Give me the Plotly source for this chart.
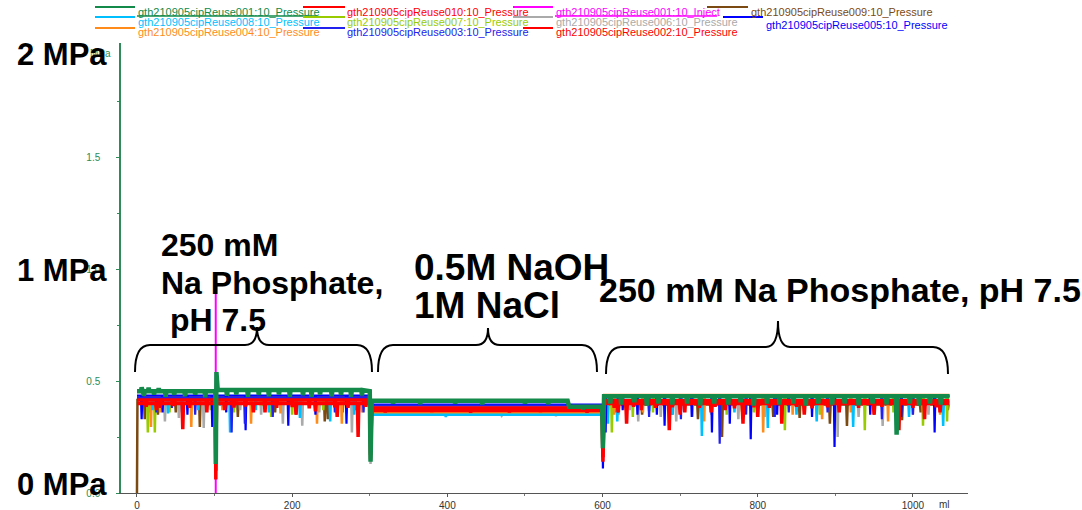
import numpy as np
import plotly.graph_objects as go

# ---------------------------------------------------------------------------
# Run data: pressure (MPa) against run volume (ml)
# ---------------------------------------------------------------------------

# Volumes where the run changes: start, sample inject, buffer switches, end
event_ml = [0, 0.6, 101, 101.6, 102.4, 104, 300, 301, 302.5, 555, 557, 599.5, 600.5, 602, 1047]

# Pressure of each run at those volumes
p009 = [0.0, 0.415, 0.415, 0.22, 0.415, 0.415, 0.415, 0.20, 0.355, 0.355, 0.355, 0.355, 0.28, 0.395, 0.395]
p006 = [0.415, 0.415, 0.415, 0.16, 0.415, 0.415, 0.415, 0.13, 0.35, 0.35, 0.35, 0.35, 0.30, 0.405, 0.405]
p007 = [0.42, 0.42, 0.42, 0.25, 0.42, 0.42, 0.42, 0.22, 0.355, 0.355, 0.355, 0.355, 0.18, 0.436, 0.436]
p004 = [0.43, 0.43, 0.43, 0.28, 0.43, 0.43, 0.43, 0.25, 0.36, 0.36, 0.36, 0.36, 0.30, 0.438, 0.438]
p008 = [0.42, 0.42, 0.42, 0.30, 0.42, 0.42, 0.42, 0.27, 0.35, 0.35, 0.35, 0.35, 0.25, 0.41, 0.41]
p005 = [0.435, 0.435, 0.435, 0.30, 0.435, 0.435, 0.435, 0.20, 0.395, 0.395, 0.395, 0.395, 0.11, 0.434, 0.434]
p003 = [0.425, 0.425, 0.425, 0.26, 0.425, 0.425, 0.425, 0.22, 0.39, 0.39, 0.39, 0.39, 0.20, 0.43, 0.43]
p002 = [0.40, 0.40, 0.40, 0.06, 0.40, 0.40, 0.40, 0.15, 0.368, 0.368, 0.368, 0.368, 0.14, 0.40, 0.40]
p010 = [0.415, 0.415, 0.415, 0.10, 0.415, 0.415, 0.415, 0.17, 0.38, 0.38, 0.38, 0.38, 0.16, 0.412, 0.412]
p001 = [0.455, 0.455, 0.455, 0.13, 0.54, 0.46, 0.455, 0.14, 0.412, 0.412, 0.385, 0.385, 0.20, 0.432, 0.432]

# Short pressure excursions of each run: volume (ml) and pressure reached (MPa)
dips009_ml = [10, 27, 50, 81, 130, 178, 205, 242, 246, 265, 281, 540, 616, 630, 651, 690, 723, 754,
              780, 820, 854, 893, 915, 950, 986, 1010, 1045]
dips009_mpa = [0.33, 0.35, 0.36, 0.295, 0.34, 0.36, 0.35, 0.32, 0.33, 0.36, 0.37, 0.345, 0.36, 0.37, 0.35,
               0.35, 0.33, 0.25, 0.36, 0.34, 0.335, 0.31, 0.30, 0.35, 0.325, 0.36, 0.37]
dips006_ml = [15, 36, 54, 86, 133, 160, 188, 213, 235, 277, 470, 605, 621, 635, 646, 675, 695, 740,
              775, 809, 860, 903, 930, 961, 1020]
dips006_mpa = [0.36, 0.32, 0.335, 0.29, 0.37, 0.35, 0.31, 0.30, 0.36, 0.27, 0.345, 0.34, 0.35, 0.37, 0.32,
               0.34, 0.32, 0.35, 0.33, 0.34, 0.36, 0.25, 0.34, 0.30, 0.35]
dips007_ml = [14, 23, 42, 95, 125, 161, 173, 200, 240, 270, 612, 639, 665, 716, 760, 795, 835, 880,
              938, 975, 1013, 1044]
dips007_mpa = [0.27, 0.27, 0.36, 0.37, 0.36, 0.39, 0.34, 0.35, 0.37, 0.355, 0.27, 0.34, 0.36, 0.34, 0.35,
               0.36, 0.28, 0.35, 0.28, 0.36, 0.30, 0.32]
dips004_ml = [18, 30, 70, 110, 147, 185, 232, 264, 290, 615, 652, 700, 731, 780, 807, 845, 883, 920,
              968, 1000, 1035]
dips004_mpa = [0.295, 0.36, 0.295, 0.37, 0.31, 0.355, 0.31, 0.31, 0.36, 0.35, 0.36, 0.36, 0.32, 0.33, 0.27,
               0.35, 0.33, 0.36, 0.32, 0.35, 0.35]
dips008_ml = [20, 40, 58, 79, 107, 120, 153, 170, 210, 249, 280, 398, 607, 619, 660, 690, 728, 770,
              813, 850, 876, 923, 995, 1039]
dips008_mpa = [0.37, 0.355, 0.36, 0.37, 0.39, 0.27, 0.37, 0.36, 0.335, 0.32, 0.35, 0.34, 0.31, 0.32, 0.365,
               0.35, 0.255, 0.36, 0.29, 0.35, 0.32, 0.295, 0.34, 0.30]
dips005_ml = [6, 33, 65, 97, 115, 140, 195, 230, 270, 604, 626, 645, 670, 680, 715, 741, 764, 791,
              825, 870, 899, 945, 985, 1028]
dips005_mpa = [0.33, 0.36, 0.35, 0.295, 0.36, 0.28, 0.30, 0.35, 0.31, 0.27, 0.37, 0.35, 0.35, 0.30, 0.34,
               0.27, 0.31, 0.24, 0.35, 0.34, 0.205, 0.35, 0.34, 0.27]
dips003_ml = [25, 45, 75, 122, 139, 175, 255, 292, 620, 660, 701, 751, 785, 822, 840, 890, 960, 1000]
dips003_mpa = [0.36, 0.38, 0.35, 0.27, 0.31, 0.34, 0.36, 0.36, 0.36, 0.34, 0.33, 0.22, 0.35, 0.34, 0.36,
               0.36, 0.33, 0.35]
dips002_ml = [25, 59, 113, 150, 205, 230, 258, 285, 620, 631, 686, 700, 740, 758, 781, 800, 860, 905,
              950, 982, 1035]
dips002_mpa = [0.37, 0.285, 0.37, 0.36, 0.35, 0.365, 0.34, 0.25, 0.36, 0.31, 0.28, 0.35, 0.36, 0.37, 0.31,
               0.34, 0.35, 0.36, 0.35, 0.28, 0.36]
dips010_ml = [12, 30, 47, 68, 90, 125, 140, 165, 180, 200, 222, 255, 272, 295,
              320, 380, 430, 480, 520, 580,
              615, 640, 650, 668, 690, 706, 725, 745, 770, 795, 815, 831, 850, 870, 890, 930,
              960, 1000, 1015, 1030]
dips010_mpa = [0.385, 0.38, 0.388, 0.38, 0.36, 0.382, 0.386, 0.36, 0.38, 0.384, 0.378, 0.383, 0.38, 0.385,
               0.36, 0.362, 0.358, 0.36, 0.362, 0.358,
               0.38, 0.385, 0.37, 0.38, 0.383, 0.36, 0.38, 0.385, 0.378, 0.383, 0.38, 0.31, 0.385, 0.378,
               0.383, 0.38, 0.385, 0.38, 0.33, 0.383]
dips001_ml = [6, 9, 15, 22, 28, 37, 48, 62, 75, 88, 116, 128, 143, 157, 170, 183, 197, 214, 225, 236,
              251, 263, 276, 290,
              330, 365, 410, 445, 500, 530, 575,
              610, 624, 641, 657, 672, 690, 709, 726, 744, 762, 778, 795, 812, 828, 846, 862, 878,
              896, 912, 930, 948, 966, 979, 996, 1008, 1022, 1036]
dips001_mpa = [0.472, 0.435, 0.47, 0.44, 0.468, 0.43, 0.438, 0.432, 0.44, 0.428, 0.435, 0.44, 0.43, 0.438,
               0.432, 0.44, 0.43, 0.437, 0.43, 0.44, 0.432, 0.438, 0.43, 0.436,
               0.40, 0.398, 0.40, 0.396, 0.40, 0.398, 0.375,
               0.40, 0.395, 0.405, 0.39, 0.40, 0.395, 0.40, 0.392, 0.40, 0.395, 0.405, 0.39, 0.40,
               0.395, 0.40, 0.39, 0.40, 0.395, 0.40, 0.392, 0.40, 0.395, 0.26, 0.40, 0.39, 0.40, 0.395]

# Sample inject marker
inject_ml = [101.5, 101.5]
inject_mpa = [0.0, 0.9]

# Axis ticks
x_ticks = [0, 200, 400, 600, 800, 1000]
x_minor = [100, 300, 500, 700, 900]
y_ticks = [0, 0.5, 1.0, 1.5]
y_labels = ["0.0", "0.5", "1.0", "1.5"]
y_minor = [0.25, 0.75, 1.25, 1.75]

# ---------------------------------------------------------------------------
# Styling
# ---------------------------------------------------------------------------
GREEN = "#138a4a"
AXIS_GREEN = "#2e8b57"
RED = "#ff0000"
runs = [
    # name, pressures, excursion volumes, excursion pressures, colour, width
    ("gth210905cipReuse009:10_Pressure", p009, dips009_ml, dips009_mpa, "#7b4a12", 2.5),
    ("gth210905cipReuse006:10_Pressure", p006, dips006_ml, dips006_mpa, "#aaaaaa", 2.5),
    ("gth210905cipReuse007:10_Pressure", p007, dips007_ml, dips007_mpa, "#99cc00", 2.5),
    ("gth210905cipReuse004:10_Pressure", p004, dips004_ml, dips004_mpa, "#ff8c1a", 2.5),
    ("gth210905cipReuse008:10_Pressure", p008, dips008_ml, dips008_mpa, "#00bfff", 2.5),
    ("gth210905cipReuse005:10_Pressure", p005, dips005_ml, dips005_mpa, "#0000ff", 2.2),
    ("gth210905cipReuse003:10_Pressure", p003, dips003_ml, dips003_mpa, "#2222ee", 2.2),
    ("gth210905cipReuse002:10_Pressure", p002, dips002_ml, dips002_mpa, RED, 3.5),
    ("gth210905cipReuse010:10_Pressure", p010, dips010_ml, dips010_mpa, RED, 3.5),
    ("gth210905cipReuse001:10_Pressure", p001, dips001_ml, dips001_mpa, GREEN, 4.5),
]


def trace_points(levels, exc_ml, exc_mpa, half=0.9):
    """Combine the run's step levels with its short excursions (each one
    leaves and returns to the level of the stretch it sits in)."""
    xs = list(event_ml)
    ys = list(levels)
    for d, v in zip(exc_ml, exc_mpa):
        i = int(np.searchsorted(event_ml, d, side="right")) - 1
        lvl = levels[i]
        xs += [d - half, d, d + half]
        ys += [lvl, v, lvl]
    order = np.argsort(xs, kind="stable")
    return np.asarray(xs)[order], np.asarray(ys)[order]


fig = go.Figure()

fig.add_trace(go.Scatter(x=inject_ml, y=inject_mpa, mode="lines",
                         line=dict(color="#ff00ff", width=2),
                         name="gth210905cipReuse001:10_Inject"))

for name, levels, dml, dmpa, color, width in runs:
    xs, ys = trace_points(levels, dml, dmpa)
    fig.add_trace(go.Scatter(x=xs, y=ys, mode="lines", name=name,
                             line=dict(color=color, width=width)))

# ---------------------------------------------------------------------------
# Layout (pixel helpers for the 1082x510 page)
# ---------------------------------------------------------------------------
L, R, T, B = 121, 968, 43, 493


def fx(px):
    return (px - L) / (R - L)


def fy(py):
    return (B - py) / (B - T)


FONT = "Liberation Sans, Arial, sans-serif"

fig.update_layout(
    width=1082, height=510,
    margin=dict(l=L, r=1082 - R, t=T, b=510 - B, autoexpand=False),
    paper_bgcolor="white", plot_bgcolor="white",
    showlegend=False,
    font=dict(family=FONT, size=10),
    xaxis=dict(range=[-20.6, 1071], showgrid=False, zeroline=False, automargin=False,
               showline=True, linecolor="#555555", linewidth=1,
               tickvals=x_ticks, ticks="outside", ticklen=3, tickcolor="#555555",
               tickfont=dict(size=10, color="#333333", family=FONT),
               minor=dict(tickvals=x_minor, ticks="outside", ticklen=2, tickcolor="#777777")),
    yaxis=dict(range=[0, 2.01], showgrid=False, zeroline=False, automargin=False,
               showline=True, linecolor=AXIS_GREEN, linewidth=1.5,
               tickvals=y_ticks, ticktext=y_labels, ticks="outside", ticklen=3,
               tickcolor=AXIS_GREEN, ticklabelstandoff=14,
               tickfont=dict(size=10, color=AXIS_GREEN, family=FONT),
               minor=dict(tickvals=y_minor, ticks="outside", ticklen=2, tickcolor=AXIS_GREEN)),
)

annotations = []
shapes = []

# Axis units
annotations.append(dict(x=fx(100), y=fy(53), xref="paper", yref="paper", text="MPa",
                        xanchor="center", yanchor="middle", showarrow=False,
                        font=dict(size=10, color=AXIS_GREEN, family=FONT)))
annotations.append(dict(x=fx(944), y=fy(504), xref="paper", yref="paper", text="ml",
                        xanchor="center", yanchor="middle", showarrow=False,
                        font=dict(size=10, color="#333333", family=FONT)))

# Legend rows drawn as short line samples with coloured labels
legend_rows = [
    # line x0, line x1, line y, text x, text y, colour, label, underline end
    (95, 135, 7, 137, 12, GREEN, "gth210905cipReuse001:10_Pressure", 317),
    (303, 345, 7, 346, 12, RED, "gth210905cipReuse010:10_Pressure", None),
    (513, 553, 7, 555, 12, "#ff00ff", "gth210905cipReuse001:10_Inject", 717),
    (707, 748, 7, 750, 12, "#7b4a12", "gth210905cipReuse009:10_Pressure", None),
    (95, 135, 17, 137, 22, "#00bfff", "gth210905cipReuse008:10_Pressure", None),
    (303, 345, 17, 346, 22, "#99cc00", "gth210905cipReuse007:10_Pressure", None),
    (513, 553, 17, 555, 22, "#aaaaaa", "gth210905cipReuse006:10_Pressure", None),
    (723, 763, 17, 765, 25, "#0000ff", "gth210905cipReuse005:10_Pressure", None),
    (95, 135, 28, 137, 32, "#ff8c1a", "gth210905cipReuse004:10_Pressure", None),
    (303, 345, 28, 346, 32, "#2222ee", "gth210905cipReuse003:10_Pressure", None),
    (523, 553, 28, 555, 32, RED, "gth210905cipReuse002:10_Pressure", None),
]
for x0, x1, ly, tx, ty, col, label, uend in legend_rows:
    shapes.append(dict(type="line", xref="paper", yref="paper",
                       x0=fx(x0), x1=fx(x1), y0=fy(ly), y1=fy(ly),
                       line=dict(color=col, width=2)))
    annotations.append(dict(x=fx(tx), y=fy(ty), xref="paper", yref="paper", text=label,
                            xanchor="left", yanchor="middle", showarrow=False, borderpad=0,
                            font=dict(size=11, color=col, family=FONT)))
    if uend is not None:
        shapes.append(dict(type="line", xref="paper", yref="paper",
                           x0=fx(tx), x1=fx(uend), y0=fy(16), y1=fy(16),
                           line=dict(color=col, width=1.5)))

# Pressure scale captions
for text, cy in [("2 MPa", 55), ("1 MPa", 270), ("0 MPa", 484)]:
    annotations.append(dict(x=fx(15), y=fy(cy), xref="paper", yref="paper", text=text,
                            xanchor="left", yanchor="middle", showarrow=False,
                            font=dict(size=31, color="black", family=FONT, weight="bold")))

# Buffer captions
captions = [
    ("250 mM", 159, 245, 32),
    ("Na Phosphate,", 159, 283, 32),
    (" pH 7.5", 159, 320, 32),
    ("0.5M NaOH", 412, 267, 37),
    ("1M NaCl", 412, 305, 37),
    ("250 mM Na Phosphate, pH 7.5", 597, 290, 34),
]
for text, lx, cy, size in captions:
    annotations.append(dict(x=fx(lx), y=fy(cy), xref="paper", yref="paper", text=text,
                            xanchor="left", yanchor="middle", showarrow=False,
                            font=dict(size=size, color="black", family=FONT, weight="bold")))


# Curly braces spanning each buffer stretch
def brace(x0, x1, xt, y_end, y_h, y_tip, w=15, wt=12):
    P = lambda x, y: f"{fx(x):.5f},{fy(y):.5f}"
    return (f"M {P(x0, y_end)} Q {P(x0, y_h)} {P(x0 + w, y_h)} "
            f"L {P(xt - wt, y_h)} Q {P(xt, y_h)} {P(xt, y_tip)} "
            f"Q {P(xt, y_h)} {P(xt + wt, y_h)} "
            f"L {P(x1 - w, y_h)} Q {P(x1, y_h)} {P(x1, y_end)}")


for args in [(135, 372, 257, 372, 345, 327),
             (378, 597, 488, 372, 345, 328),
             (606, 948, 778, 374, 347, 321)]:
    shapes.append(dict(type="path", xref="paper", yref="paper", path=brace(*args),
                       line=dict(color="black", width=2)))

fig.update_layout(annotations=annotations, shapes=shapes)

fig.write_html("out.html")
